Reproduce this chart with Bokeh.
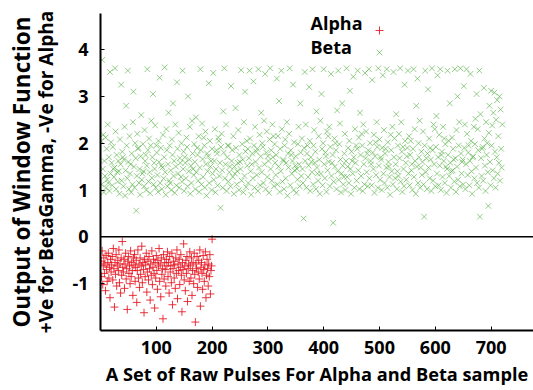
from bokeh.plotting import figure
from bokeh.models import (Range1d, FixedTicker, Span, Label, Legend, LegendItem,
                          ColumnDataSource, LinearAxis)
from bokeh.core.properties import value
from bokeh.embed import file_html
from bokeh.resources import INLINE

# Window-function output per raw pulse (pulse index on x)
beta_values = [
    2.05, 1.12, 3.78, 1.45, 2.18, 0.95, 1.62, 1.30, 2.12, 1.05, 1.88, 1.22, 2.40, 1.15, 1.70, 0.98, 3.52, 1.35, 2.02, 1.58, 1.10, 1.92, 1.45, 1.28,
    1.48, 3.60, 2.25, 1.02, 1.75, 1.38, 1.18, 1.62, 1.40, 0.92, 2.08, 1.55, 3.25, 1.20, 1.82, 1.70, 1.08, 1.65, 2.35, 0.88, 1.42, 2.80, 1.95, 1.25,
    3.55, 1.60, 1.02, 2.15, 1.35, 1.55, 0.95, 1.78, 1.12, 2.45, 3.10, 1.50, 1.05, 2.00, 1.68, 0.56, 1.30, 2.20, 1.88, 1.90, 1.15, 1.45, 0.90, 1.72,
    2.60, 1.22, 1.35, 1.98, 1.40, 1.08, 2.28, 1.62, 1.75, 1.00, 1.52, 3.58, 1.85, 1.18, 2.10, 1.38, 0.93, 1.95, 2.48, 1.26, 1.70, 3.05, 1.12, 1.58,
    1.45, 2.38, 1.05, 1.95, 1.80, 1.32, 0.96, 2.05, 1.60, 3.40, 1.15, 1.90, 1.52, 1.02, 1.48, 2.18, 1.25, 1.70, 3.62, 1.38, 0.90, 2.30, 1.85, 1.08,
    1.55, 2.65, 1.20, 1.95, 1.15, 1.42, 1.00, 2.08, 1.75, 2.85, 1.30, 1.62, 0.94, 2.40, 1.50, 1.10, 3.30, 1.88, 1.35, 2.22, 1.05, 1.68, 1.58, 1.28,
    2.00, 1.18, 3.55, 1.45, 1.82, 0.98, 1.70, 1.58, 1.25, 2.12, 1.92, 1.08, 3.00, 1.40, 1.65, 2.35, 0.92, 1.52, 1.15, 2.48, 1.78, 1.45, 1.32, 1.98,
    1.60, 1.02, 2.55, 1.38, 1.90, 1.75, 1.20, 2.15, 0.96, 1.48, 3.58, 1.85, 1.12, 2.42, 1.66, 1.28, 2.12, 1.95, 1.05, 2.25, 1.55, 0.88, 1.78, 1.40,
    1.72, 3.28, 1.15, 2.05, 1.50, 1.62, 1.00, 1.88, 1.35, 3.50, 1.22, 1.62, 2.30, 0.95, 1.45, 1.85, 1.78, 1.10, 2.12, 2.05, 1.30, 1.58, 0.62, 1.92,
    2.20, 1.42, 1.05, 2.68, 1.80, 3.60, 1.25, 1.55, 2.40, 0.98, 1.70, 1.95, 1.18, 1.95, 1.38, 1.50, 1.08, 3.22, 1.62, 1.85, 1.28, 2.15, 0.92, 1.50,
    1.35, 2.75, 1.90, 1.12, 1.40, 1.58, 2.28, 1.00, 1.75, 1.60, 1.45, 3.56, 1.20, 1.98, 1.65, 0.95, 2.45, 1.30, 3.10, 1.82, 1.06, 2.05, 1.52, 1.88,
    1.15, 1.68, 3.55, 2.10, 1.40, 0.90, 1.55, 1.78, 1.25, 3.32, 1.95, 1.05, 2.35, 1.60, 1.82, 1.32, 1.88, 0.98, 3.58, 1.48, 2.18, 1.10, 1.72, 2.65,
    1.38, 2.00, 1.92, 1.15, 2.48, 1.55, 3.48, 1.02, 1.80, 2.25, 1.28, 1.72, 1.62, 0.94, 2.08, 3.60, 1.45, 1.85, 1.20, 2.40, 1.70, 2.15, 1.08, 1.98,
    1.58, 1.32, 1.75, 3.38, 1.12, 2.15, 1.50, 2.90, 0.96, 1.88, 1.40, 3.55, 2.30, 1.18, 1.65, 1.62, 1.02, 1.95, 2.08, 1.25, 1.58, 2.45, 0.88, 1.78,
    1.48, 2.20, 3.60, 1.10, 1.85, 1.75, 1.35, 1.62, 3.25, 1.00, 2.02, 1.42, 1.52, 1.72, 0.94, 1.45, 1.22, 1.98, 2.35, 1.55, 1.08, 2.85, 1.80, 1.30,
    2.10, 1.45, 1.15, 0.39, 1.90, 3.52, 1.62, 2.40, 1.05, 1.78, 1.95, 1.28, 1.52, 3.20, 2.05, 0.98, 1.70, 1.60, 1.38, 3.58, 1.12, 1.95, 2.28, 1.58,
    1.82, 1.02, 2.68, 1.48, 1.35, 1.20, 2.15, 1.65, 0.92, 2.48, 1.35, 3.05, 1.88, 1.10, 2.00, 3.58, 1.55, 1.25, 1.80, 1.72, 0.96, 2.25, 1.42, 2.15,
    1.60, 2.35, 1.08, 1.92, 3.48, 1.30, 1.58, 1.75, 0.30, 1.18, 2.10, 1.50, 2.00, 1.85, 1.02, 2.70, 1.40, 3.55, 1.22, 1.98, 2.42, 1.65, 0.95, 1.35,
    2.85, 1.52, 1.12, 1.28, 1.78, 2.20, 1.00, 1.62, 3.60, 1.28, 1.50, 1.90, 1.15, 2.05, 3.12, 1.45, 0.92, 1.82, 1.62, 1.35, 3.42, 1.70, 1.05, 2.30,
    1.58, 1.95, 1.20, 1.88, 3.55, 1.42, 2.12, 1.02, 2.65, 1.75, 1.30, 2.20, 1.95, 0.98, 2.40, 1.55, 1.12, 3.50, 1.68, 2.25, 1.38, 1.78, 1.08, 1.85,
    3.58, 1.25, 2.00, 1.62, 1.55, 1.10, 3.35, 1.80, 1.45, 2.18, 0.94, 1.72, 2.02, 1.32, 2.45, 1.92, 1.05, 3.60, 1.52, 2.08, 1.22, 1.70, 1.65, 1.00,
    1.90, 3.45, 1.35, 2.28, 1.15, 1.78, 1.88, 1.48, 3.58, 1.05, 2.02, 1.60, 1.50, 1.28, 0.90, 2.18, 1.85, 1.40, 2.35, 1.12, 3.52, 1.70, 2.10, 1.25,
    1.55, 2.62, 1.02, 1.40, 1.95, 1.30, 2.20, 1.68, 3.60, 1.18, 2.45, 1.82, 0.96, 1.92, 1.45, 1.08, 3.25, 2.05, 1.58, 1.22, 1.72, 1.90, 3.55, 1.35,
    2.15, 1.10, 1.75, 2.05, 1.42, 1.55, 1.00, 1.88, 3.58, 1.28, 2.30, 1.62, 0.92, 2.80, 1.50, 3.38, 1.15, 2.00, 1.70, 2.48, 1.05, 1.48, 1.82, 1.32,
    1.60, 2.25, 1.12, 0.43, 1.95, 3.55, 1.38, 1.68, 1.02, 1.78, 3.15, 1.48, 2.10, 1.25, 1.90, 1.65, 0.98, 3.60, 1.85, 1.20, 2.40, 1.55, 2.30, 1.08,
    1.92, 2.58, 1.35, 3.45, 1.70, 1.10, 2.18, 1.52, 3.58, 1.00, 1.75, 1.82, 1.28, 2.35, 1.62, 2.10, 1.15, 1.98, 1.50, 0.94, 1.45, 3.55, 1.75, 2.05,
    1.30, 2.85, 1.58, 1.05, 1.40, 2.12, 1.42, 1.88, 1.65, 1.18, 3.58, 1.68, 0.96, 2.28, 1.50, 3.00, 1.22, 1.95, 2.45, 1.08, 3.60, 1.78, 1.35, 1.60,
    1.65, 1.12, 3.22, 1.90, 2.40, 1.02, 1.55, 3.58, 2.20, 1.32, 1.80, 1.95, 1.10, 1.62, 3.48, 2.05, 1.40, 0.92, 1.70, 1.72, 2.35, 1.25, 1.98, 2.52,
    1.48, 3.05, 1.15, 2.30, 1.85, 1.05, 3.55, 0.43, 2.62, 1.68, 1.30, 1.88, 1.92, 1.20, 3.18, 2.10, 1.52, 0.98, 2.45, 1.75, 2.00, 1.38, 0.66, 2.22,
    2.80, 1.60, 1.10, 3.12, 1.95, 2.38, 1.42, 2.65, 1.25, 3.08, 1.82, 1.05, 2.50, 1.70, 2.92, 1.35, 2.15, 1.58, 3.00, 1.20, 2.72, 1.88, 1.48, 2.40,
]

alpha_values = [
    -0.52, -0.85, -0.30, -1.02, -0.62, -0.45, -0.78, -0.58, -1.15, -0.40, -0.70, -0.95, -0.55, -0.35, -0.88, -0.65, -1.30, -0.48, -0.75, -0.60,
    -0.42, -0.92, -0.25, -0.68, -1.50, -0.55, -0.80, -0.38, -1.05, -0.62, -0.50, -0.72, -0.28, -0.98, -0.58, -1.20, -0.45, -0.82, -0.10, -0.65,
    -0.75, -0.48, -1.10, -0.58, -0.35, -0.90, -0.68, -1.55, -0.52, -0.42, -0.78, -0.62, -1.00, -0.30, -0.85, -0.55, -0.72, -1.25, -0.45, -0.60,
    -0.38, -0.95, -0.65, -0.50, -1.40, -0.72, -0.28, -0.88, -0.58, -1.08, -0.45, -0.80, -0.62, -0.20, -0.98, -0.55, -0.70, -1.62, -0.48, -0.85,
    -0.60, -0.35, -1.18, -0.75, -0.52, -0.92, -0.42, -0.68, -1.35, -0.58, -0.82, -0.30, -1.02, -0.65, -0.48, -0.78, -1.52, -0.55, -0.88, -0.40,
    -0.72, -1.12, -0.50, -0.62, -0.25, -0.95, -0.58, -1.28, -0.45, -0.80, -0.68, -1.75, -0.38, -0.90, -0.55, -0.70, -1.05, -0.48, -0.62, -0.32,
    -0.85, -0.55, -1.20, -0.42, -0.75, -0.62, -0.98, -0.35, -1.45, -0.68, -0.52, -0.88, -0.60, -1.10, -0.45, -0.78, -0.28, -1.32, -0.58, -0.72,
    -0.48, -1.02, -0.65, -0.38, -0.82, -1.60, -0.55, -0.70, -0.15, -0.92, -0.62, -1.15, -0.50, -0.78, -0.42, -1.38, -0.68, -0.58, -0.95, -0.32,
    -0.62, -0.88, -0.45, -1.25, -0.72, -0.55, -1.00, -0.35, -0.80, -1.82, -0.58, -0.68, -0.42, -1.08, -0.75, -0.50, -0.90, -0.28, -1.48, -0.65,
    -0.55, -0.78, -1.12, -0.40, -0.70, -0.95, -0.60, -0.32, -1.30, -0.82, -0.48, -0.68, -1.05, -0.58, -0.85, -0.38, -1.22, -0.72, -0.62, -0.05,
]

beta_pulses = list(range(1, len(beta_values) + 1))
alpha_pulses = list(range(1, len(alpha_values) + 1))

x_ticks = [100, 200, 300, 400, 500, 600, 700]
y_ticks = [-1, 0, 1, 2, 3, 4]

series_names = ["Alpha", "Beta"]
y_title_lines = ["Output of Window Function", "+Ve for BetaGamma, -Ve for Alpha"]
x_title = "A Set of Raw Pulses For Alpha and Beta sample"

FONT = "Open Sans"

p = figure(width=533, height=390, output_backend="svg", toolbar_location=None,
           x_range=Range1d(0, 776), y_range=Range1d(-2.0, 4.77),
           min_border_left=100, min_border_right=0, min_border_top=13,
           min_border_bottom=60)
p.grid.visible = False
p.outline_line_color = None
p.background_fill_color = "white"
p.border_fill_color = "white"

beta_src = ColumnDataSource(dict(x=beta_pulses, y=beta_values))
alpha_src = ColumnDataSource(dict(x=alpha_pulses, y=alpha_values))

r_beta = p.scatter("x", "y", source=beta_src, marker="x", size=8,
                   line_color="#4fae3c", line_alpha=0.6, line_width=1)
r_alpha = p.scatter("x", "y", source=alpha_src, marker="cross", size=8,
                    line_color="#e8121c", line_alpha=0.85, line_width=1)

# zero reference line
p.add_layout(Span(location=0, dimension="width", line_color="black", line_width=1.5))

for ax in (p.xaxis[0], p.yaxis[0]):
    ax.axis_line_color = "black"
    ax.axis_line_width = 2
    ax.major_tick_in = 4
    ax.major_tick_out = 0
    ax.minor_tick_line_color = None
    ax.major_tick_line_color = "black"
    ax.major_label_text_font = FONT
    ax.major_label_text_font_style = "bold"
    ax.major_label_text_font_size = "18px"
    ax.major_label_text_color = "black"

p.xaxis.ticker = FixedTicker(ticks=x_ticks)
p.yaxis.ticker = FixedTicker(ticks=y_ticks)
p.yaxis.major_label_overrides = {t: str(t) for t in y_ticks}
p.xaxis.major_label_standoff = 10
p.yaxis.major_label_standoff = 12

p.xaxis.axis_label = x_title
p.xaxis.axis_label_text_font = FONT
p.xaxis.axis_label_text_font_style = "bold"
p.xaxis.axis_label_text_font_size = "18.2px"
p.xaxis.axis_label_text_color = "black"
p.xaxis.axis_label_standoff = 5

# two-line vertical title: inner line on the main axis, outer line on a bare axis
p.yaxis.axis_label = y_title_lines[1]
p.yaxis.axis_label_text_font = FONT
p.yaxis.axis_label_text_font_style = "bold"
p.yaxis.axis_label_text_font_size = "19px"
p.yaxis.axis_label_text_color = "black"
p.yaxis.axis_label_standoff = 10

outer = LinearAxis(ticker=FixedTicker(ticks=[]), axis_line_color=None,
                   major_tick_in=0, major_tick_out=0, minor_tick_in=0, minor_tick_out=0,
                   major_label_standoff=0, axis_label_standoff=-6,
                   axis_label=y_title_lines[0], axis_label_text_font=FONT,
                   axis_label_text_font_style="bold", axis_label_text_font_size="22.5px",
                   axis_label_text_color="black")
p.add_layout(outer, "left")

# legend: names on the left, marker keys on the right
legend = Legend(items=[LegendItem(label=value(" "), renderers=[r_alpha]),
                       LegendItem(label=value(" "), renderers=[r_beta])],
                location=(269, 268), orientation="vertical",
                glyph_width=20, glyph_height=20, spacing=2, padding=0, margin=0,
                label_width=0, label_standoff=0, label_text_font_size="1px",
                border_line_alpha=0, background_fill_alpha=0)
p.add_layout(legend)
for yy, name in ((308, series_names[0]), (284, series_names[1])):
    p.add_layout(Label(x=210, y=yy, x_units="screen", y_units="screen", text=name,
                       text_align="left", text_baseline="middle",
                       text_font=FONT, text_font_style="bold", text_font_size="18px",
                       text_color="black"))

open("out.html", "w").write(file_html(p, INLINE))
